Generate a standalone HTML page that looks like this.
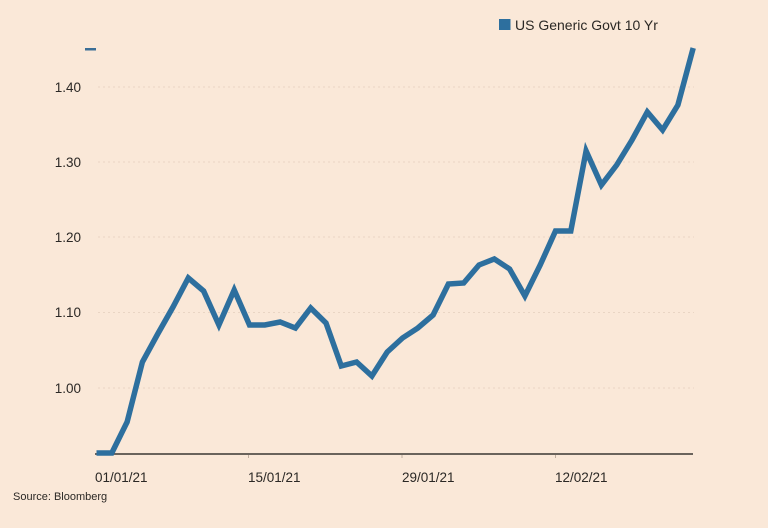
<!DOCTYPE html>
<html><head><meta charset="utf-8"><style>
html,body{margin:0;padding:0;background:#fae8d8;}
svg{display:block;}
text{font-family:"Liberation Sans",sans-serif;fill:#2b2825;}
</style></head><body>
<svg width="768" height="528" viewBox="0 0 768 528" xmlns="http://www.w3.org/2000/svg">
<rect width="768" height="528" fill="#fae8d8"/>
<g stroke="#e9d5c4" stroke-width="1" stroke-dasharray="2,3">
<line x1="98" y1="87" x2="694" y2="87"/>
<line x1="98" y1="162" x2="694" y2="162"/>
<line x1="98" y1="237" x2="694" y2="237"/>
<line x1="98" y1="312.5" x2="694" y2="312.5"/>
<line x1="98" y1="388" x2="694" y2="388"/>
</g>
<g font-size="13.5" text-anchor="end">
<text x="81" y="92">1.40</text>
<text x="81" y="167">1.30</text>
<text x="81" y="242">1.20</text>
<text x="81" y="317">1.10</text>
<text x="81" y="393">1.00</text>
</g>
<rect x="85" y="48" width="11" height="2.5" fill="#3b6e96"/>
<line x1="95" y1="454" x2="693" y2="454" stroke="#3a3733" stroke-width="1.6"/>
<g stroke="#bfae9f" stroke-width="1">
<line x1="248.5" y1="455" x2="248.5" y2="458"/>
<line x1="402" y1="455" x2="402" y2="458"/>
<line x1="555.5" y1="455" x2="555.5" y2="458"/>
</g>
<polyline fill="none" stroke="#2d6f9e" stroke-width="5.5" stroke-linejoin="miter" stroke-linecap="butt"
points="96.5,453 111.8,453 127.1,422 142.4,362 157.7,334 173,307 188.3,278 203.6,291 218.9,325 234.2,290 249.5,325 264.8,325 280.1,322 295.4,328 310.7,308 326,323 341.3,366 356.6,362 371.9,376 387.2,352 402.5,338 417.8,328 433.1,315 448.4,284 463.7,283 479,265 494.3,259 509.6,269 524.9,296 540.2,265 555.5,231 570.8,231 586.1,151 601.4,185 616.7,165 632,140 647.3,112 662.6,130 677.9,105 693.2,48"/>
<g font-size="13.5">
<text x="95" y="482">01/01/21</text>
<text x="248" y="482">15/01/21</text>
<text x="402" y="482">29/01/21</text>
<text x="555" y="482">12/02/21</text>
</g>
<text x="13" y="500" font-size="11">Source: Bloomberg</text>
<rect x="499" y="19" width="11.5" height="11" fill="#2d6f9e"/>
<text x="515" y="30" font-size="14">US Generic Govt 10 Yr</text>
</svg>
</body></html>
